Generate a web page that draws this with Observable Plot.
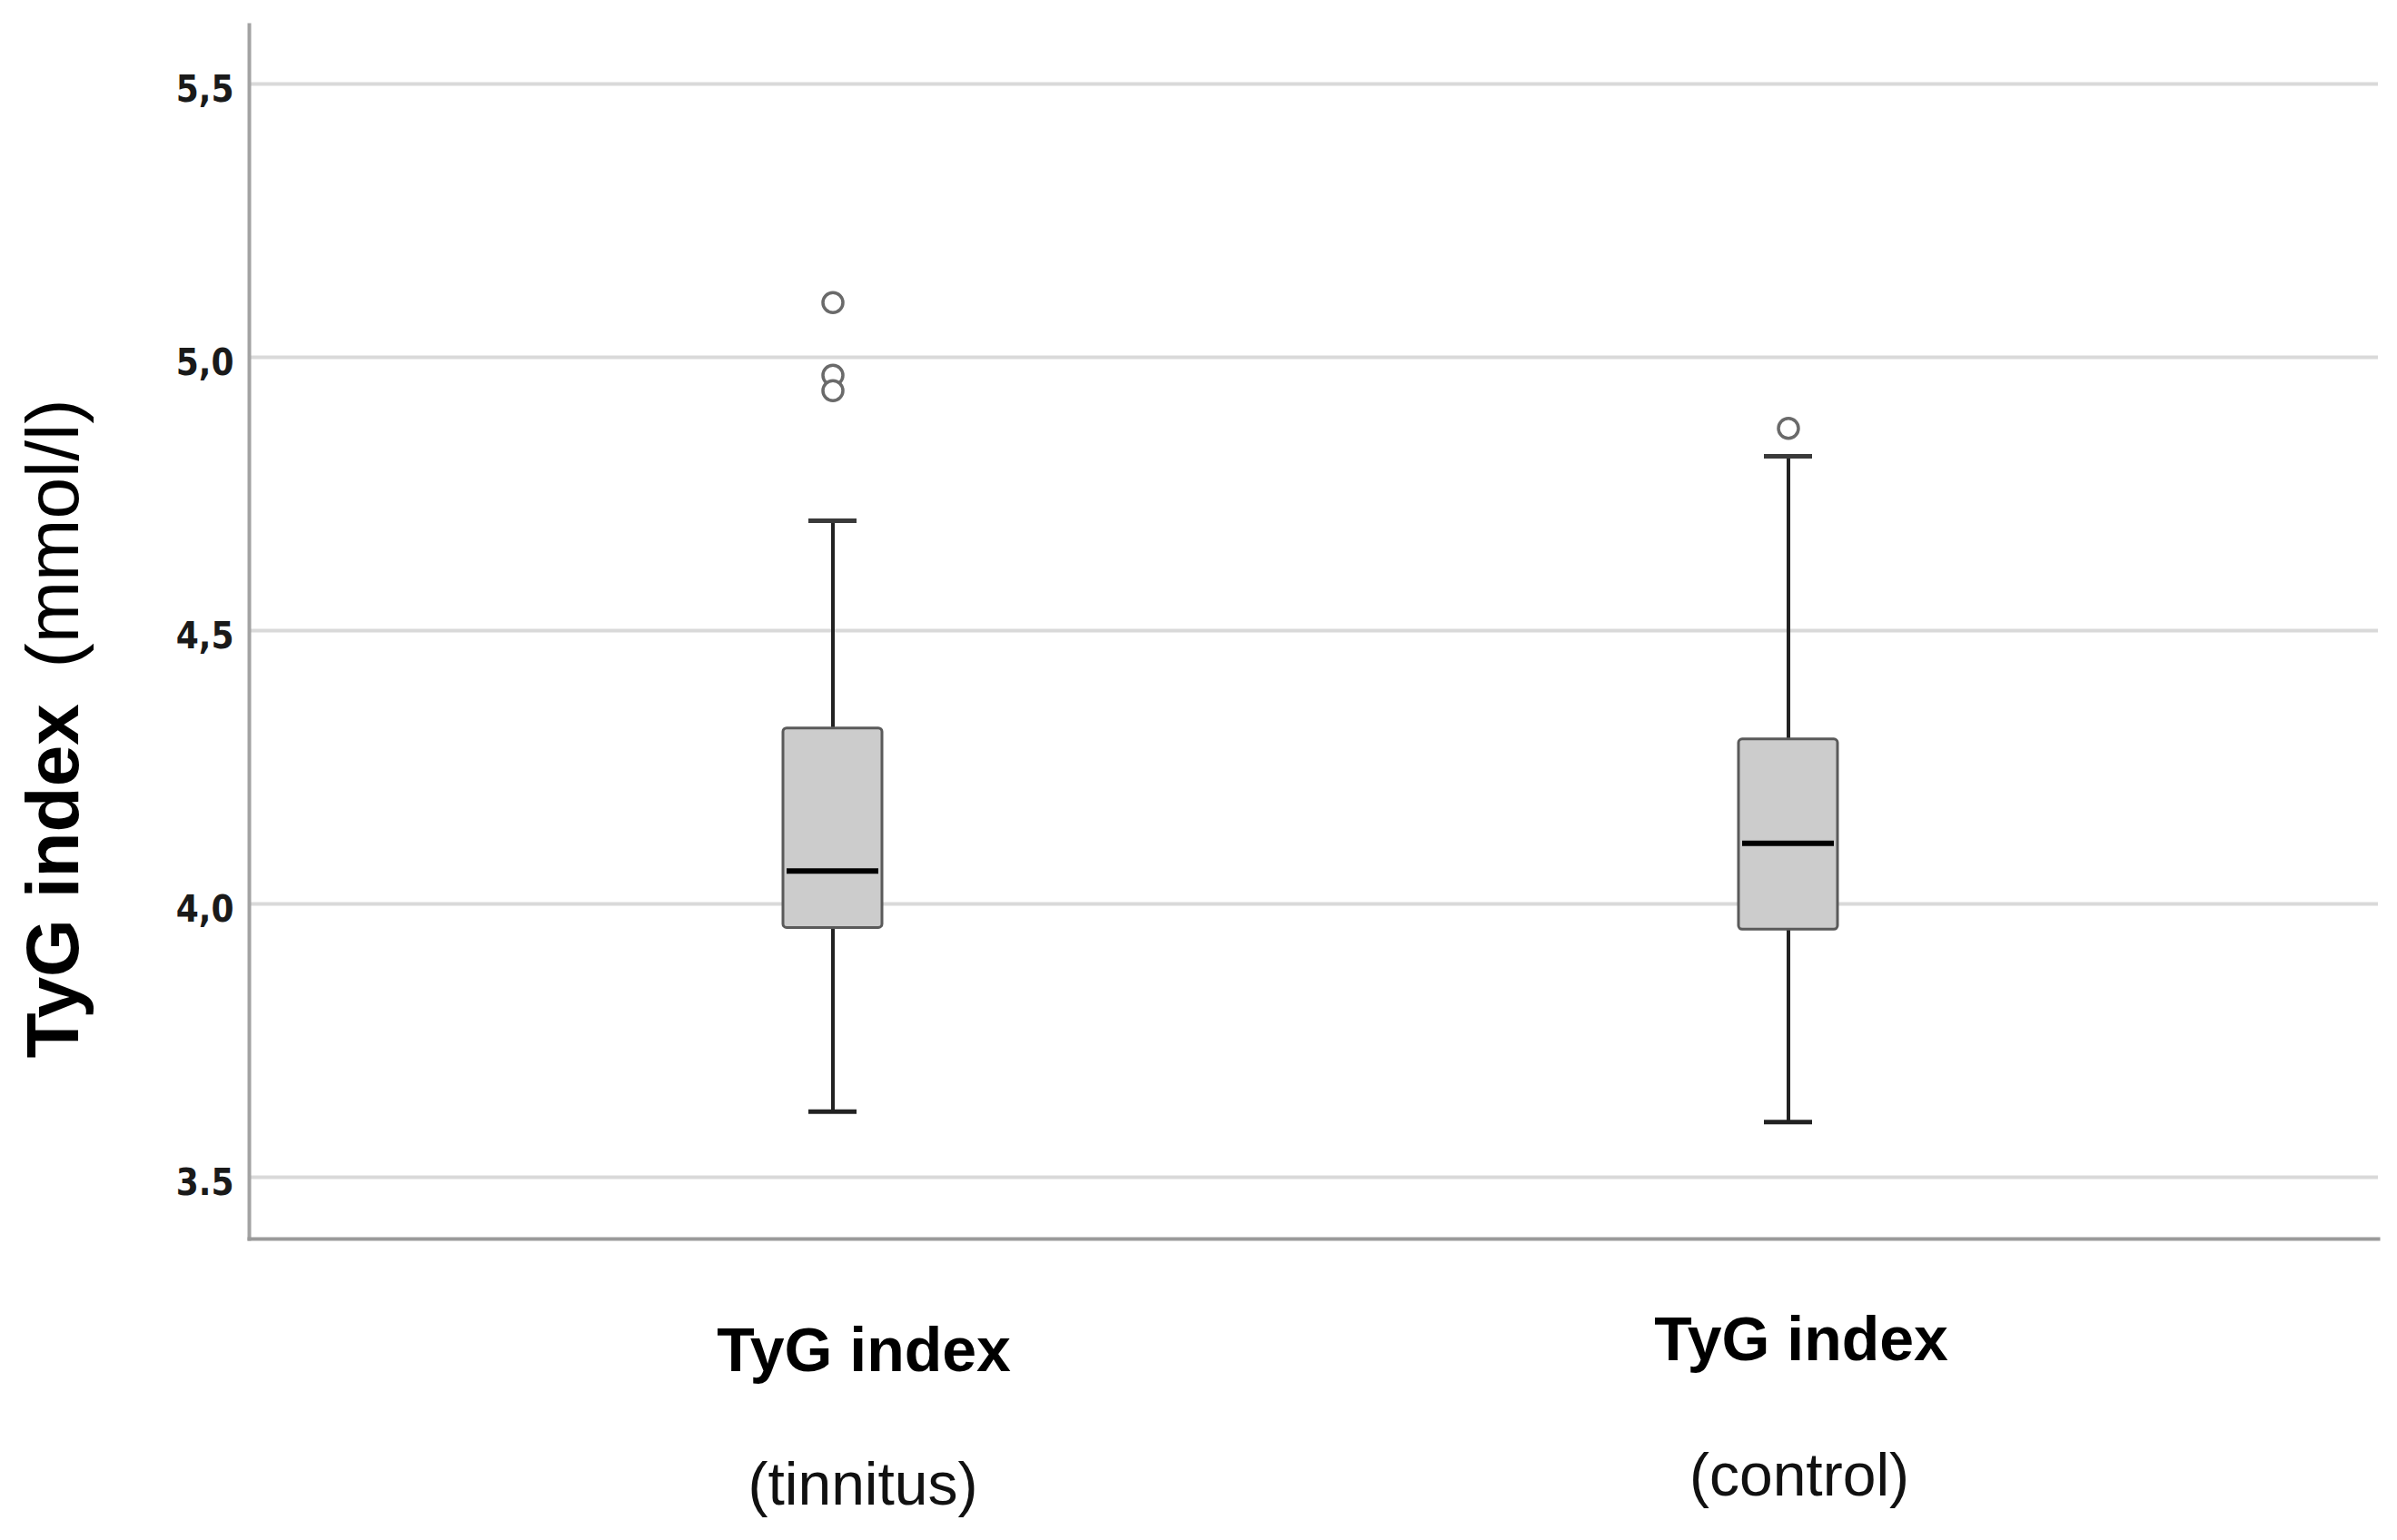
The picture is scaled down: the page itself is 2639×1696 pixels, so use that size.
<!DOCTYPE html>
<html>
<head>
<meta charset="utf-8">
<script src="https://cdn.jsdelivr.net/npm/d3@7"></script>
<script src="https://cdn.jsdelivr.net/npm/@observablehq/plot@0.6"></script>
<style>
  html, body { margin: 0; padding: 0; background: #ffffff; }
  #chart svg { display: block; }
</style>
</head>
<body>
<div id="chart"></div>
<script>
// ---- data ----
const groups        = ["tinnitus", "control"];
const lowerWhisker  = [3.620, 3.601];
const quartile1     = [3.956, 3.953];
const medians       = [4.060, 4.111];
const quartile3     = [4.321, 4.301];
const upperWhisker  = [4.701, 4.819];
const outliersTinnitus = [5.100, 4.967, 4.939];
const outliersControl  = [4.870];
const yTicks      = [3.5, 4.0, 4.5, 5.0, 5.5];
const yTickLabels = ["3.5", "4,0", "4,5", "5,0", "5,5"];
const yDomain     = [3.387, 5.608];
const xLabelTop    = "TyG index";
const xLabelBottom = ["(tinnitus)", "(control)"];
const yLabelBold   = "TyG index";
const yLabelNormal = "(mmol/l)";

// ---- tables built from the arrays ----
const stats = groups.map((g, i) => ({
  group: g, lo: lowerWhisker[i], q1: quartile1[i], median: medians[i],
  q3: quartile3[i], hi: upperWhisker[i]
}));
const outliers = [
  ...outliersTinnitus.map(v => ({group: "tinnitus", value: v})),
  ...outliersControl.map(v => ({group: "control", value: v}))
];
const tickLabel = new Map(yTicks.map((t, i) => [t, yTickLabels[i]]));

const sans = "'Liberation Sans', Arial, Helvetica, sans-serif";
const narrow = "'Liberation Sans Narrow', 'DejaVu Sans Condensed', 'Liberation Sans', sans-serif";

const chart = Plot.plot({
  width: 2639,
  height: 1696,
  marginLeft: 274,
  marginRight: 21,
  marginTop: 27,
  marginBottom: 332,
  style: {background: "#ffffff", fontFamily: sans},
  x: {type: "band", domain: groups, paddingInner: 0.8965, paddingOuter: 0.562, align: 0.497, axis: null},
  y: {domain: yDomain, axis: null},
  marks: [
    // horizontal grid lines
    Plot.ruleY(yTicks, {stroke: "#d9d9d9", strokeWidth: 4}),
    // axis lines
    Plot.frame({anchor: "left", stroke: "#a3a3a3", strokeWidth: 4}),
    Plot.frame({anchor: "bottom", stroke: "#9a9a9a", strokeWidth: 4}),
    // y tick labels
    Plot.axisY(yTicks, {
      tickSize: 0, tickPadding: 17, label: null,
      tickFormat: d => tickLabel.get(d),
      fontSize: 40, fontWeight: "bold", fontFamily: narrow, fill: "#1a1a1a", dy: 7
    }),
    // whiskers
    Plot.ruleX(stats, {x: "group", y1: "q3", y2: "hi", stroke: "#222222", strokeWidth: 4}),
    Plot.ruleX(stats, {x: "group", y1: "lo", y2: "q1", stroke: "#222222", strokeWidth: 4}),
    // whisker caps
    Plot.tickY(stats, {x: "group", y: "hi", stroke: "#3a3a3a", strokeWidth: 5, insetLeft: 28, insetRight: 28}),
    Plot.tickY(stats, {x: "group", y: "lo", stroke: "#222222", strokeWidth: 5, insetLeft: 28, insetRight: 28}),
    // boxes
    Plot.barY(stats, {x: "group", y1: "q1", y2: "q3", fill: "#cccccc", stroke: "#5a5a5a", strokeWidth: 3, rx: 4}),
    // medians
    Plot.tickY(stats, {x: "group", y: "median", stroke: "#000000", strokeWidth: 6, insetLeft: 4, insetRight: 4}),
    // outliers
    Plot.dot(outliers, {x: "group", y: "value", r: 11, stroke: "#6a6a6a", strokeWidth: 3.5, fill: "#ffffff"}),
    // x category labels (two lines each)
    Plot.text(stats.filter(d => d.group === "tinnitus"), {
      x: "group", frameAnchor: "bottom", text: () => xLabelTop, lineAnchor: "bottom",
      dx: 34, dy: 145, fontSize: 68, fontWeight: "bold", fontFamily: sans, fill: "#000000"
    }),
    Plot.text(stats.filter(d => d.group === "tinnitus"), {
      x: "group", frameAnchor: "bottom", text: () => xLabelBottom[0], lineAnchor: "bottom",
      dx: 33, dy: 292, fontSize: 66, fontFamily: sans, fill: "#111111"
    }),
    Plot.text(stats.filter(d => d.group === "control"), {
      x: "group", frameAnchor: "bottom", text: () => xLabelTop, lineAnchor: "bottom",
      dx: 14, dy: 133, fontSize: 68, fontWeight: "bold", fontFamily: sans, fill: "#000000"
    }),
    Plot.text(stats.filter(d => d.group === "control"), {
      x: "group", frameAnchor: "bottom", text: () => xLabelBottom[1], lineAnchor: "bottom",
      dx: 12, dy: 282, fontSize: 66, fontFamily: sans, fill: "#111111"
    }),
    // rotated y-axis title: bold part then normal part
    Plot.text([yLabelBold], {
      frameAnchor: "left", rotate: -90, textAnchor: "start", lineAnchor: "bottom",
      dx: -189, dy: 469.5, fontSize: 82, fontWeight: "bold", fontFamily: sans, fill: "#000000"
    }),
    Plot.text([yLabelNormal], {
      frameAnchor: "left", rotate: -90, textAnchor: "start", lineAnchor: "bottom",
      dx: -189, dy: 39.5, fontSize: 82, fontFamily: sans, fill: "#000000"
    })
  ]
});
document.getElementById("chart").appendChild(chart);
</script>
</body>
</html>
